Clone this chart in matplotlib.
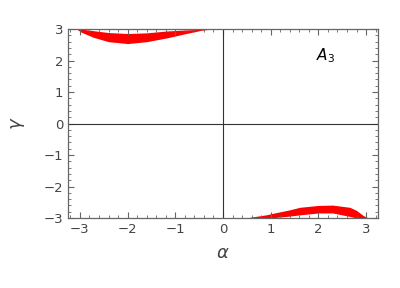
import numpy as np
import matplotlib
matplotlib.use("Agg")
import matplotlib.pyplot as plt
from matplotlib.ticker import MultipleLocator

# Top-left region (alpha, upper and lower gamma edges)
top_alpha = [-3.05, -2.97, -2.72, -2.4, -2.0, -1.6, -1.18, -0.8, -0.46, -0.25]
top_upper = [3.0, 3.0, 2.95, 2.89, 2.86, 2.88, 2.94, 2.97, 3.0, 3.0]
top_lower = [2.98, 2.90, 2.74, 2.60, 2.54, 2.60, 2.72, 2.85, 2.96, 3.0]

# Bottom-right region
bot_alpha = [0.55, 0.9, 1.05, 1.4, 1.61, 2.0, 2.3, 2.66, 2.8, 2.94, 3.05]
bot_upper = [-2.98, -2.90, -2.85, -2.74, -2.66, -2.60, -2.59, -2.66, -2.76, -2.92, -3.0]
bot_lower = [-3.0, -3.0, -2.99, -2.94, -2.90, -2.84, -2.84, -2.95, -3.0, -3.0, -3.0]

xmin, xmax = -3.25, 3.25
ymin, ymax = -3, 3

fig = plt.figure(figsize=(4.0, 2.88), dpi=100)
ax = fig.add_axes([0.17, 0.243, 0.775, 0.656])

ax.fill_between(top_alpha, top_lower, top_upper, color='#ff0000', lw=0)
ax.fill_between(bot_alpha, bot_lower, bot_upper, color='#ff0000', lw=0)

ax.axhline(0, color='#333333', lw=0.8)
ax.axvline(0, color='#333333', lw=0.8)

ax.set_xlim(xmin, xmax)
ax.set_ylim(ymin, ymax)

gray = '#666666'
for s in ax.spines.values():
    s.set_color(gray)
    s.set_linewidth(0.9)

ax.xaxis.set_major_locator(MultipleLocator(1))
ax.xaxis.set_minor_locator(MultipleLocator(0.2))
ax.yaxis.set_major_locator(MultipleLocator(1))
ax.yaxis.set_minor_locator(MultipleLocator(0.2))
ax.tick_params(which='both', direction='in', top=True, right=True, color=gray,
               labelcolor='#444444', labelsize=9.5)
ax.tick_params(which='major', length=4, width=0.8)
ax.tick_params(which='minor', length=2, width=0.6)
ax.tick_params(which='both', labeltop=False, labelright=False)

ticks = [-3, -2, -1, 0, 1, 2, 3]
tick_labels = ['\u22123', '\u22122', '\u22121', '0', '1', '2', '3']
ax.set_xticks(ticks)
ax.set_xticklabels(tick_labels)
ax.set_yticks(ticks)
ax.set_yticklabels(tick_labels)

ax.set_xlabel(r'$\alpha$', fontsize=13, color='#444444', labelpad=6)
ax.set_ylabel(r'$\gamma$', fontsize=13, color='#444444', rotation=90, labelpad=12)

ax.text(1.95, 2.15, r'$A_3$', fontsize=11, color='black', ha='left', va='center')

fig.savefig('out.png', dpi=100)
